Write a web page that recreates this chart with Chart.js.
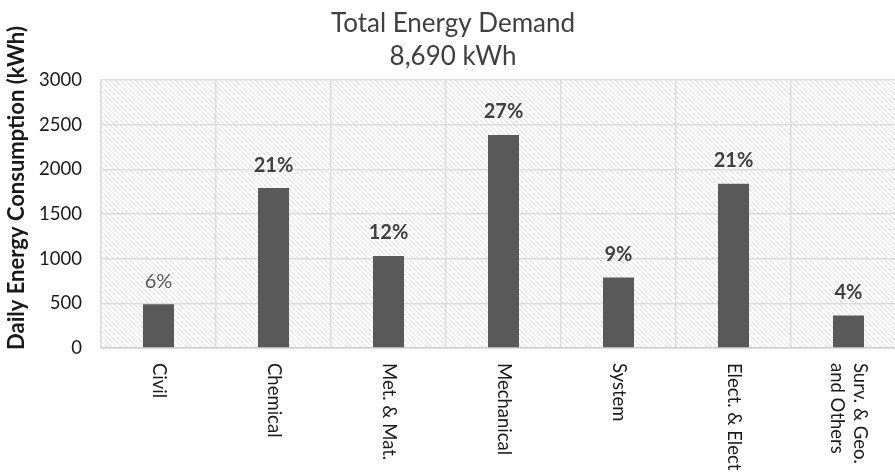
<!DOCTYPE html>
<html>
<head>
<meta charset="utf-8">
<script src="https://cdn.jsdelivr.net/npm/chart.js@4"></script>
<style>
    body { margin: 0; overflow: hidden; background: #fff; }
    #wrap { width: 912px; height: 475px; }
</style>
</head>
<body>
<div id="wrap"><canvas id="energy-chart" width="912" height="475"></canvas></div>
<script>
// chart data
var categories = ["Civil", "Chemical", "Met. & Mat.", "Mechanical", "System", "Elect. & Elect", ["Surv. & Geo.", "and Others"]];
var dailyKwh = [490, 1790, 1030, 2385, 790, 1840, 365];
var yTicks = [0, 500, 1000, 1500, 2000, 2500, 3000];
var shareLabels = ["6%", "21%", "12%", "27%", "9%", "21%", "4%"];

var totalKwh = dailyKwh.reduce(function(a, b) { return a + b; }, 0);
var fontName = "Lato, 'Noto Sans', sans-serif";

//hatched background for the plot area
function makeHatch() {
    var s = 5;
    var c = document.createElement("canvas");
    c.width = s;
    c.height = s;
    var g = c.getContext("2d");
    g.fillStyle = "#ffffff";
    g.fillRect(0, 0, s, s);
    g.strokeStyle = "#e0e0e0";
    g.lineWidth = 1;
    g.beginPath();
    g.moveTo(-1, -1);
    g.lineTo(s + 1, s + 1);
    g.moveTo(-1, s - 1);
    g.lineTo(1, s + 1);
    g.moveTo(s - 1, -1);
    g.lineTo(s + 1, 1);
    g.stroke();
    return c;
}

var hatchPlugin = {
    id: "hatch",
    beforeDraw: function(chart) {
        var ctx = chart.ctx;
        var a = chart.chartArea;
        ctx.save();
        ctx.fillStyle = ctx.createPattern(makeHatch(), "repeat");
        ctx.fillRect(a.left, a.top, a.right - a.left, a.bottom - a.top);
        ctx.restore();
    }
};

//percent labels, rotated category labels, y axis title
var textPlugin = {
    id: "texts",
    afterDraw: function(chart) {
        var ctx = chart.ctx;
        var meta = chart.getDatasetMeta(0);
        var xScale = chart.scales.x;

        ctx.save();
        ctx.textAlign = "center";
        ctx.textBaseline = "middle";
        meta.data.forEach(function(bar, i) {
            if (i == 0) {
                ctx.font = "20px " + fontName;
                ctx.fillStyle = "#595959";
            } else {
                ctx.font = "bold 20px " + fontName;
                ctx.fillStyle = "#404040";
            }
            ctx.fillText(shareLabels[i], bar.x, bar.y - 23);
        });
        ctx.restore();

        ctx.save();
        ctx.font = "18.5px " + fontName;
        ctx.fillStyle = "#1a1a1a";
        ctx.textAlign = "left";
        ctx.textBaseline = "middle";
        categories.forEach(function(label, i) {
            var lines = Array.isArray(label) ? label : [label];
            var x = xScale.getPixelForValue(i);
            ctx.save();
            ctx.translate(x, xScale.top + 15);
            ctx.rotate(Math.PI / 2);
            lines.forEach(function(line, j) {
                ctx.fillText(line, 0, (j - (lines.length - 1) / 2) * 23);
            });
            ctx.restore();
        });
        ctx.restore();

        ctx.save();
        ctx.font = "bold 22px " + fontName;
        ctx.fillStyle = "#1a1a1a";
        ctx.textAlign = "center";
        ctx.textBaseline = "middle";
        ctx.translate(17, 188);
        ctx.rotate(-Math.PI / 2);
        ctx.fillText("Daily Energy Consumption (kWh)", 0, 0);
        ctx.restore();
    }
};

var energyChart = new Chart(document.getElementById("energy-chart").getContext("2d"), {
    type: "bar",
    data: {
        labels: categories,
        datasets: [{
            data: dailyKwh,
            backgroundColor: "#595959",
            borderWidth: 0,
            categoryPercentage: 1,
            barPercentage: 0.27
        }]
    },
    options: {
        responsive: false,
        animation: false,
        devicePixelRatio: 1,
        layout: {
            padding: { left: 0, right: 6, top: 0, bottom: 0 }
        },
        plugins: {
            legend: { display: false },
            tooltip: { enabled: false },
            title: {
                display: true,
                text: ["Total Energy Demand", totalKwh.toLocaleString("en-US") + " kWh"],
                color: "#404040",
                font: { family: fontName, size: 26, weight: "normal", lineHeight: 1.27 },
                padding: { top: 7, bottom: 7 }
            }
        },
        scales: {
            x: {
                grid: { color: "#dcdcdc", lineWidth: 1.5, drawTicks: false, offset: true },
                border: { color: "#d0d0d0", width: 1.5 },
                ticks: { display: false },
                afterFit: function(scale) { scale.height = 127; }
            },
            y: {
                min: 0,
                max: 3000,
                afterBuildTicks: function(scale) {
                    scale.ticks = yTicks.map(function(v) { return { value: v }; });
                },
                grid: { color: "#dcdcdc", lineWidth: 1.5, drawTicks: false },
                border: { color: "#dcdcdc", width: 1.5 },
                ticks: {
                    color: "#1a1a1a",
                    padding: 19,
                    font: { family: fontName, size: 18.5 },
                    callback: function(value) { return String(value); }
                },
                afterFit: function(scale) { scale.width = 101; }
            }
        }
    },
    plugins: [hatchPlugin, textPlugin]
});
</script>
</body>
</html>
